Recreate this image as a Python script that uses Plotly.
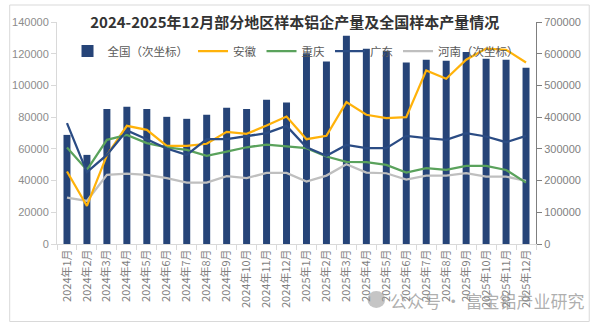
import plotly.graph_objects as go

months = [f"2024年{m}月" for m in range(1, 13)] + [f"2025年{m}月" for m in range(1, 13)]

national = [344000, 281000, 426000, 432600, 426000, 401000, 394700, 407400, 429500, 426000, 454700, 446000,
            601600, 575700, 656900, 615800, 609500, 572600, 581000, 578000, 605400, 584200, 581000, 555800]
anhui = [45700, 24000, 56000, 74500, 72000, 61900, 61900, 63200, 70700, 69500, 74700, 80400,
         66100, 68200, 89500, 81500, 79400, 80000, 109500, 104200, 116200, 123200, 122500, 114500]
chongqing = [60800, 46700, 65700, 68800, 63600, 61000, 59400, 55600, 58300, 61000, 62700, 61500,
             60400, 55200, 51800, 51600, 49900, 45000, 47800, 46700, 49300, 49300, 46700, 38700]
guangdong = [76200, 45300, 56200, 71600, 66100, 60200, 56200, 66100, 66100, 67800, 69900, 74500,
             61000, 55600, 62500, 60400, 60400, 68200, 66700, 65700, 69900, 67800, 64200, 68200]
henan = [146200, 135800, 217900, 222000, 217900, 207500, 193600, 193600, 213700, 207500, 224200, 224200,
         196700, 215700, 251700, 225200, 223100, 203100, 215700, 215700, 223100, 212600, 212600, 199000]

C_BAR = "#264478"
C_AH = "#FFB20A"
C_CQ = "#5AA25C"
C_GD = "#2B4C84"
C_HN = "#BFBFBF"

FONT = "Liberation Sans, Arial, Noto Sans CJK SC, sans-serif"
CJK = "Noto Sans CJK SC, Liberation Sans, sans-serif"

W, H = 593, 325
L, R, T, B = 50, 57, 22, 81
PW, PH = W - L - R, H - T - B


def px(xp):
    return (xp - L) / PW


def py(yp):
    return (H - B - yp) / PH


fig = go.Figure()
fig.add_trace(go.Bar(x=months, y=national, name="全国（次坐标）", marker_color=C_BAR,
                     marker_line_width=0, yaxis="y"))
fig.add_trace(go.Scatter(x=months, y=anhui, name="安徽", mode="lines",
                         line=dict(color=C_AH, width=2.25), yaxis="y2"))
fig.add_trace(go.Scatter(x=months, y=chongqing, name="重庆", mode="lines",
                         line=dict(color=C_CQ, width=2.25), yaxis="y2"))
fig.add_trace(go.Scatter(x=months, y=guangdong, name="广东", mode="lines",
                         line=dict(color=C_GD, width=2.25), yaxis="y2"))
fig.add_trace(go.Scatter(x=months, y=henan, name="河南（次坐标）", mode="lines",
                         line=dict(color=C_HN, width=2.25), yaxis="y"))

fig.update_layout(
    width=W, height=H,
    margin=dict(l=L, r=R, t=T, b=B),
    paper_bgcolor="white", plot_bgcolor="rgba(0,0,0,0)",
    bargap=0.65,
    showlegend=True,
    legend=dict(orientation="h", x=px(292), xanchor="center", y=py(51), yanchor="middle",
                font=dict(family=CJK, size=11.5, color="#595959"),
                bgcolor="rgba(0,0,0,0)", traceorder="normal", itemwidth=30),
    title=dict(text="<b>2024-2025年12月部分地区样本铝企产量及全国样本产量情况</b>",
               x=0.497, xanchor="center", y=1 - 23 / H, yanchor="middle",
               font=dict(family=CJK, size=15, color="#333333")),
    xaxis=dict(type="category", tickangle=-90, showline=True, linecolor="#D9D9D9", linewidth=1,
               ticks="outside", ticklen=5, tickcolor="#D9D9D9", tickson="boundaries",
               tickfont=dict(family=CJK, size=11, color="#7F7F7F"), showgrid=False),
    yaxis=dict(side="right", range=[0, 700000], dtick=100000, tickformat="d", showgrid=False,
               zeroline=False, showline=True, linecolor="#7F7F7F", linewidth=1, ticks="outside",
               ticklen=5, tickcolor="#7F7F7F", tickfont=dict(family=FONT, size=11, color="#7F7F7F")),
    yaxis2=dict(side="left", overlaying="y", range=[0, 140000], dtick=20000, tickformat="d",
                showgrid=False, zeroline=False, showline=True, linecolor="#D9D9D9", linewidth=1,
                ticks="outside", ticklen=5, tickcolor="#D9D9D9",
                tickfont=dict(family=FONT, size=11, color="#8C8C8C")),
)

# chart border
fig.add_shape(type="rect", xref="paper", yref="paper",
              x0=px(2), x1=px(590), y0=py(321.5), y1=py(5),
              line=dict(color="#D9D9D9", width=1), fillcolor="rgba(0,0,0,0)", layer="below")

# watermark
fig.add_shape(type="circle", xref="paper", yref="paper",
              x0=px(365), x1=px(383), y0=py(308), y1=py(291),
              line=dict(width=0), fillcolor="rgba(150,150,150,0.55)", layer="above")
fig.add_annotation(text="公众号 · 富宝铝产业研究", xref="paper", yref="paper",
                   x=px(386), xanchor="left", y=py(300), yanchor="middle", showarrow=False,
                   font=dict(family=CJK, size=17, color="rgba(140,140,140,0.7)"))

fig.write_html("out.html")
